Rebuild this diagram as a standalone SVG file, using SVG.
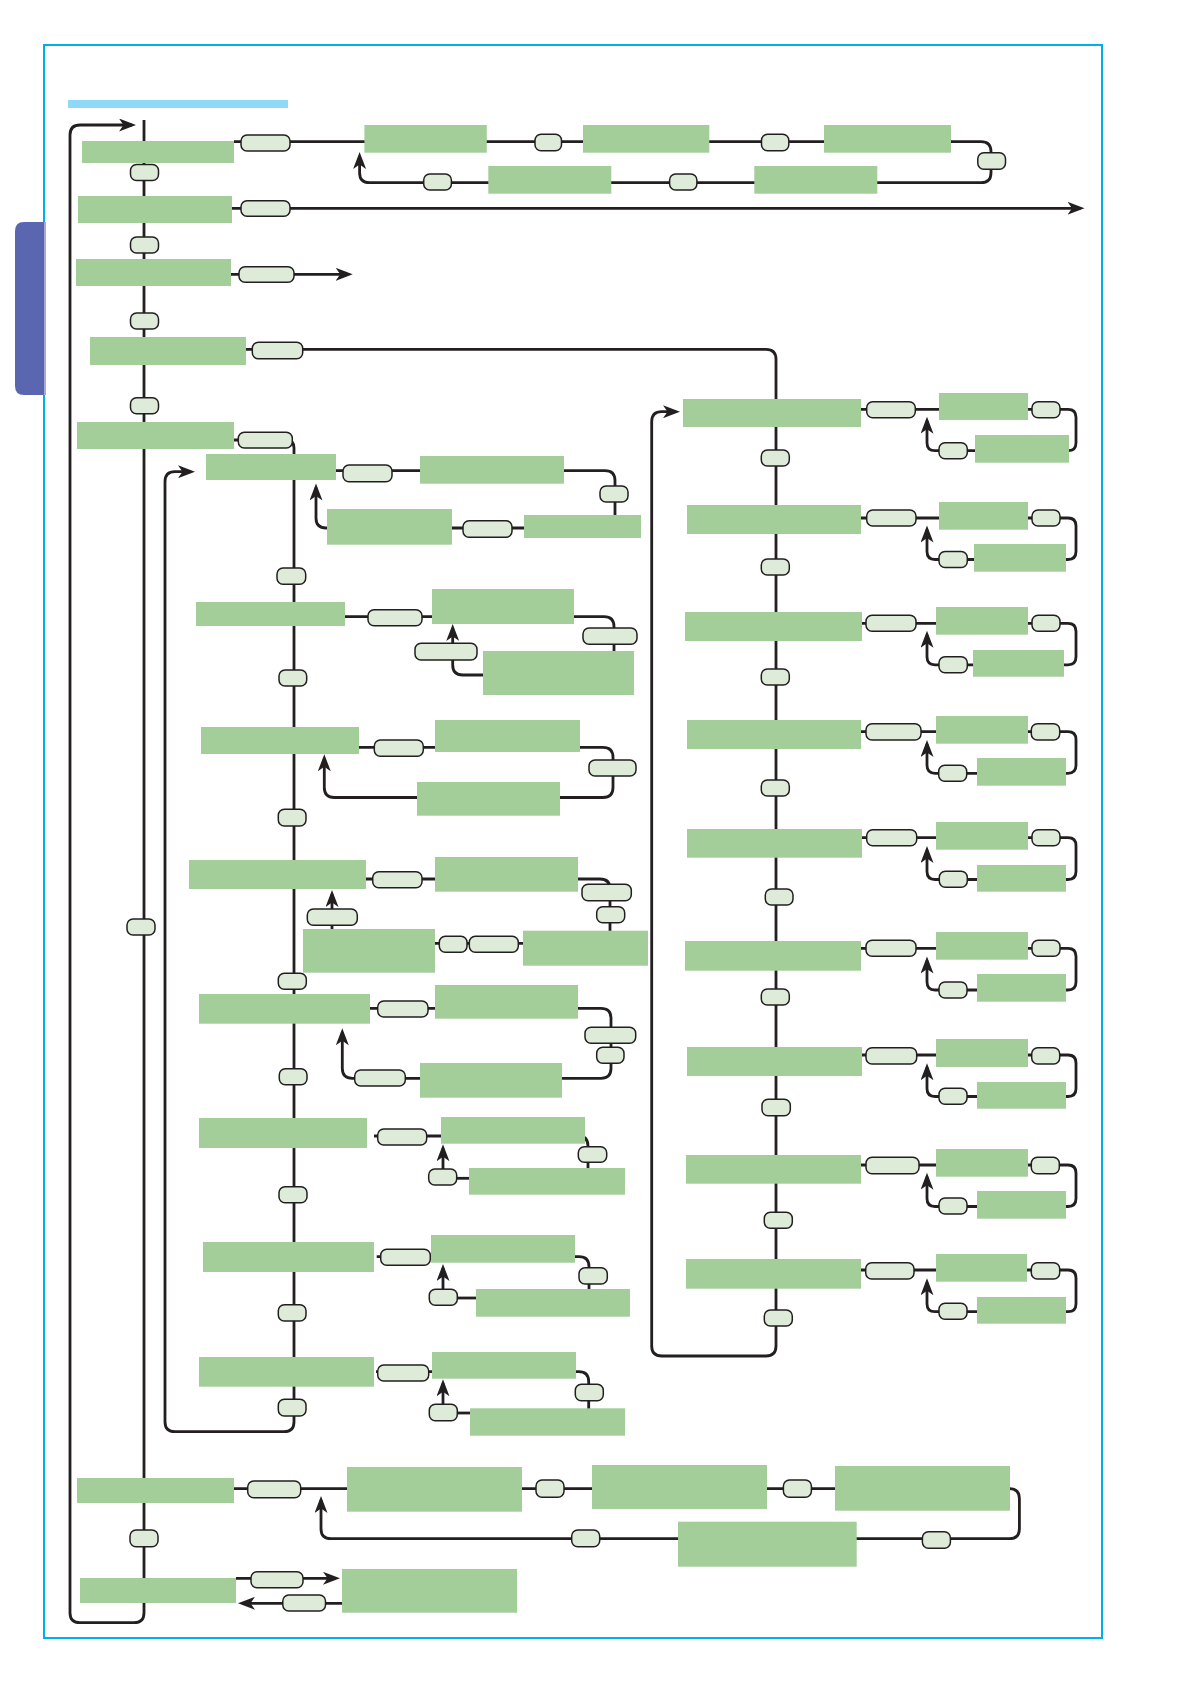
<svg xmlns="http://www.w3.org/2000/svg" width="1191" height="1685" viewBox="0 0 1191 1685">
<style>
.b{fill:#A3CE9A}
.p{fill:#DDEBD8;stroke:#231F20;stroke-width:1.5}
.c{fill:none;stroke:#231F20;stroke-width:2.8;stroke-linejoin:round}
.a{marker-end:url(#ah)}
</style>
<defs>
<marker id="ah" markerUnits="userSpaceOnUse" markerWidth="18" markerHeight="13" refX="13" refY="6.5" orient="auto" viewBox="0 0 18 13">
<path d="M0,0 L17,6.5 L0,13 L4.5,6.5 Z" fill="#231F20"/>
</marker>
</defs>
<rect width="1191" height="1685" fill="#FFFFFF"/>
<rect x="44" y="45" width="1058" height="1593" fill="none" stroke="#00AEEF" stroke-width="2"/>
<rect x="68" y="100" width="220" height="8" fill="#8ED8F8"/>
<path d="M46,222 H24 Q15,222 15,231 V386 Q15,395 24,395 H46 Z" fill="#5B66B1"/>
<line x1="45" y1="222" x2="45" y2="395" stroke="#A3AADA" stroke-width="2"/>

<g id="connectors">
<!-- main loop -->
<path class="c a" d="M144,120 V1612.7 Q144,1622.7 134,1622.7 H80 Q70,1622.7 70,1612.7 V135 Q70,125 80,125 H132"/>
<!-- box1 top loop -->
<path class="c a" d="M234,141.7 H981 Q991,141.7 991,151.7 V172.7 Q991,182.7 981,182.7 H369.6 Q359.6,182.7 359.6,172.7 V156"/>
<!-- box2 -->
<path class="c a" d="M232,208.3 H1080.5"/>
<!-- box3 -->
<path class="c a" d="M231,274.3 H348.7"/>
<!-- box4 to right column -->
<path class="c a" d="M246,349.3 H766 Q776,349.3 776,359.3 V1346 Q776,1356 766,1356 H661.7 Q651.7,1356 651.7,1346 V421.7 Q651.7,411.7 661.7,411.7 H676"/>
<!-- box5 to sub column -->
<path class="c a" d="M234,440 H286 Q294,440 294,448 V1421.7 Q294,1431.7 284,1431.7 H175 Q165,1431.7 165,1421.7 V481.7 Q165,471.7 175,471.7 H191"/>
<!-- sub A -->
<path class="c a" d="M336,470.7 H605 Q615,470.7 615,480.7 V518 Q615,528 605,528 H326 Q316,528 316,518 V487.5"/>
<!-- sub B -->
<path class="c a" d="M345,616.7 H604 Q614,616.7 614,626.7 V665 Q614,675 604,675 H462.7 Q452.7,675 452.7,665 V628"/>
<!-- sub C -->
<path class="c a" d="M359,747.3 H603 Q613,747.3 613,757.3 V787.5 Q613,797.5 603,797.5 H334.3 Q324.3,797.5 324.3,787.5 V758.3"/>
<!-- sub D -->
<path class="c" d="M366,879 H600 Q610,879 610,889 V935"/>
<path class="c" d="M523,943.3 H435"/>
<path class="c a" d="M332,929 V894"/>
<!-- sub E -->
<path class="c a" d="M370,1008.3 H601 Q611,1008.3 611,1018.3 V1068.3 Q611,1078.3 601,1078.3 H352.3 Q342.3,1078.3 342.3,1068.3 V1032.3"/>
<!-- sub F -->
<path class="c" d="M374,1136 H578 Q588,1136 588,1146 V1172"/>
<path class="c" d="M457,1178.3 H469"/>
<path class="c a" d="M443,1169 V1148.3"/>
<!-- sub G -->
<path class="c" d="M376.7,1256.7 H579 Q589,1256.7 589,1266.7 V1293"/>
<path class="c" d="M457,1298 H476"/>
<path class="c a" d="M443,1289 V1268"/>
<!-- sub H -->
<path class="c" d="M376,1371.7 H578.7 Q588.7,1371.7 588.7,1381.7 V1412"/>
<path class="c" d="M457,1413 H470"/>
<path class="c a" d="M443,1404 V1383.3"/>
<!-- right rows -->
<path class="c a" d="M861,409.3 H1068 Q1076,409.3 1076,417.3 V442.7 Q1076,450.7 1068,450.7 H935 Q927,450.7 927,442.7 V420.7"/>
<path class="c a" d="M861,518 H1068 Q1076,518 1076,526 V551.5 Q1076,559.5 1068,559.5 H935 Q927,559.5 927,551.5 V529.5"/>
<path class="c a" d="M862,623.3 H1068 Q1076,623.3 1076,631.3 V656.8 Q1076,664.8 1068,664.8 H935 Q927,664.8 927,656.8 V634.8"/>
<path class="c a" d="M861,731.7 H1068 Q1076,731.7 1076,739.7 V765.3 Q1076,773.3 1068,773.3 H935 Q927,773.3 927,765.3 V744"/>
<path class="c a" d="M862,837.7 H1068 Q1076,837.7 1076,845.7 V871.5 Q1076,879.5 1068,879.5 H935 Q927,879.5 927,871.5 V850"/>
<path class="c a" d="M861,948.3 H1068 Q1076,948.3 1076,956.3 V982 Q1076,990 1068,990 H935 Q927,990 927,982 V960.5"/>
<path class="c a" d="M862,1055 H1068 Q1076,1055 1076,1063 V1088.5 Q1076,1096.5 1068,1096.5 H935 Q927,1096.5 927,1088.5 V1067.3"/>
<path class="c a" d="M861,1165 H1068 Q1076,1165 1076,1173 V1198.5 Q1076,1206.5 1068,1206.5 H935 Q927,1206.5 927,1198.5 V1176.7"/>
<path class="c a" d="M861,1270 H1068 Q1076,1270 1076,1278 V1303.7 Q1076,1311.7 1068,1311.7 H935 Q927,1311.7 927,1303.7 V1282.3"/>
<!-- bottom rows -->
<path class="c a" d="M234,1488.7 H1009.4 Q1019.4,1488.7 1019.4,1498.7 V1528.7 Q1019.4,1538.7 1009.4,1538.7 H331 Q321,1538.7 321,1528.7 V1500"/>
<path class="c a" d="M236,1578.3 H336"/>
<path class="c a" d="M342,1603.3 H242"/>
</g>

<g id="main-boxes">
<g id="m1"><rect class="b" x="82" y="141" width="152" height="22"/></g>
<g id="m2"><rect class="b" x="78" y="196" width="154" height="27"/></g>
<g id="m3"><rect class="b" x="76" y="259" width="155" height="27"/></g>
<g id="m4"><rect class="b" x="90" y="337" width="156" height="28"/></g>
<g id="m5"><rect class="b" x="77" y="422" width="157" height="27"/></g>
<g id="m6"><rect class="b" x="77" y="1478" width="157" height="25"/></g>
<g id="m7"><rect class="b" x="80" y="1578" width="156" height="25"/></g>
</g>
<g id="main-pills">
<g id="mv1"><rect class="p" x="130.5" y="164.5" width="28" height="16" rx="6"/></g>
<g id="mv2"><rect class="p" x="130.5" y="237" width="28" height="16" rx="6"/></g>
<g id="mv3"><rect class="p" x="130.5" y="313" width="28" height="16" rx="6"/></g>
<g id="mv4"><rect class="p" x="130.5" y="397.7" width="28" height="16" rx="6"/></g>
<g id="mv5"><rect class="p" x="127" y="919" width="28" height="16" rx="6"/></g>
<g id="mv6"><rect class="p" x="130" y="1530" width="28" height="16.7" rx="6"/></g>
<g id="mh1"><rect class="p" x="241" y="135" width="49" height="16" rx="6"/></g>
<g id="mh2"><rect class="p" x="241" y="200.7" width="49" height="15.5" rx="6"/></g>
<g id="mh3"><rect class="p" x="239" y="266.7" width="55" height="15.5" rx="6"/></g>
<g id="mh4"><rect class="p" x="252.3" y="342.3" width="50.4" height="16.4" rx="6"/></g>
<g id="mh5"><rect class="p" x="238.3" y="432.3" width="54" height="15.7" rx="6"/></g>
<g id="mh6"><rect class="p" x="247.7" y="1481" width="53" height="16.7" rx="6"/></g>
<g id="mh7"><rect class="p" x="251" y="1571.7" width="52" height="16" rx="6"/></g>
<g id="mh8"><rect class="p" x="282.8" y="1595" width="42.7" height="16" rx="6"/></g>
</g>

<g id="top-row">
<g id="t1"><rect class="b" x="364.4" y="125" width="122.4" height="27.7"/></g>
<g id="t2"><rect class="b" x="583" y="125" width="126.3" height="27.7"/></g>
<g id="t3"><rect class="b" x="824" y="125" width="127" height="27.7"/></g>
<g id="t4"><rect class="b" x="754.3" y="166" width="123" height="27.7"/></g>
<g id="t5"><rect class="b" x="488.3" y="166" width="123" height="27.7"/></g>
<g id="tp1"><rect class="p" x="535" y="134.3" width="26.5" height="16.4" rx="6"/></g>
<g id="tp2"><rect class="p" x="761.5" y="134.3" width="27.3" height="16.4" rx="6"/></g>
<g id="tp3"><rect class="p" x="977.8" y="152.7" width="27.7" height="16.6" rx="6"/></g>
<g id="tp4"><rect class="p" x="669.6" y="174" width="27.3" height="16" rx="6"/></g>
<g id="tp5"><rect class="p" x="423.7" y="174" width="27.7" height="16" rx="6"/></g>
</g>

<g id="sub-chains">
<g id="a1"><rect class="b" x="206" y="454" width="130" height="26"/></g>
<g id="a1p"><rect class="p" x="343" y="465" width="49" height="16.7" rx="6"/></g>
<g id="a2"><rect class="b" x="420" y="456" width="144" height="27.7"/></g>
<g id="a2p"><rect class="p" x="600" y="486" width="28" height="16" rx="6"/></g>
<g id="a3"><rect class="b" x="524" y="515" width="117" height="23"/></g>
<g id="a3p"><rect class="p" x="463" y="520.7" width="49" height="16.6" rx="6"/></g>
<g id="a4"><rect class="b" x="327" y="509" width="125" height="35.7"/></g>

<g id="b1"><rect class="b" x="196" y="602" width="149" height="24"/></g>
<g id="b1p"><rect class="p" x="368" y="609.7" width="54" height="16" rx="6"/></g>
<g id="b2"><rect class="b" x="432" y="589" width="142" height="35"/></g>
<g id="b2p"><rect class="p" x="583" y="628" width="54" height="16.3" rx="6"/></g>
<g id="b3"><rect class="b" x="483" y="651" width="151" height="44"/></g>
<g id="b3p"><rect class="p" x="415" y="643.3" width="62" height="16.7" rx="6"/></g>

<g id="c1"><rect class="b" x="201" y="727" width="158" height="27"/></g>
<g id="c1p"><rect class="p" x="374.3" y="740" width="49" height="16.3" rx="6"/></g>
<g id="c2"><rect class="b" x="435" y="720" width="145" height="32"/></g>
<g id="c2p"><rect class="p" x="589" y="760" width="47" height="16" rx="6"/></g>
<g id="c3"><rect class="b" x="417" y="782" width="143" height="33.7"/></g>

<g id="d1"><rect class="b" x="189" y="860" width="177" height="29"/></g>
<g id="d1p"><rect class="p" x="372.7" y="871.7" width="49.3" height="16" rx="6"/></g>
<g id="d2"><rect class="b" x="435" y="857" width="143" height="34.7"/></g>
<g id="d2p"><rect class="p" x="582" y="884.3" width="49.3" height="16.4" rx="6"/></g>
<g id="d2q"><rect class="p" x="596.7" y="906.7" width="28" height="16" rx="6"/></g>
<g id="d3"><rect class="b" x="523" y="930.7" width="125" height="35"/></g>
<g id="d3p"><rect class="p" x="469.3" y="936.3" width="49" height="16" rx="6"/></g>
<g id="d3q"><rect class="p" x="439.3" y="936.3" width="27.7" height="16" rx="6"/></g>
<g id="d4"><rect class="b" x="303" y="929" width="132" height="43.7"/></g>
<g id="d4p"><rect class="p" x="307.3" y="909" width="50" height="16.3" rx="6"/></g>

<g id="e1"><rect class="b" x="199" y="994" width="171" height="29.7"/></g>
<g id="e1p"><rect class="p" x="377.7" y="1001" width="50.3" height="16" rx="6"/></g>
<g id="e2"><rect class="b" x="435" y="985" width="143" height="33.7"/></g>
<g id="e2p"><rect class="p" x="585" y="1027.3" width="50.7" height="16" rx="6"/></g>
<g id="e2q"><rect class="p" x="596.7" y="1047.3" width="27.3" height="16" rx="6"/></g>
<g id="e3"><rect class="b" x="420" y="1063" width="142" height="34.7"/></g>
<g id="e3p"><rect class="p" x="354.7" y="1070" width="50.6" height="16" rx="6"/></g>

<g id="f1"><rect class="b" x="199" y="1118" width="168" height="30"/></g>
<g id="f1p"><rect class="p" x="377.7" y="1129" width="49" height="16" rx="6"/></g>
<g id="f2"><rect class="b" x="441" y="1117" width="144" height="26.7"/></g>
<g id="f2p"><rect class="p" x="578.3" y="1146.7" width="28.4" height="15.6" rx="6"/></g>
<g id="f3"><rect class="b" x="469" y="1168" width="156" height="26.7"/></g>
<g id="f3p"><rect class="p" x="428.7" y="1169" width="28" height="16" rx="6"/></g>

<g id="g1"><rect class="b" x="203" y="1242" width="171" height="30"/></g>
<g id="g1p"><rect class="p" x="380.7" y="1249.3" width="49.6" height="16" rx="6"/></g>
<g id="g2"><rect class="b" x="431" y="1235" width="144" height="27.7"/></g>
<g id="g2p"><rect class="p" x="579" y="1267.7" width="28.3" height="16.3" rx="6"/></g>
<g id="g3"><rect class="b" x="476" y="1289" width="154" height="27.7"/></g>
<g id="g3p"><rect class="p" x="429.3" y="1289.3" width="28" height="16" rx="6"/></g>

<g id="h1"><rect class="b" x="199" y="1357" width="175" height="29.7"/></g>
<g id="h1p"><rect class="p" x="377.7" y="1365" width="51" height="16" rx="6"/></g>
<g id="h2"><rect class="b" x="432" y="1352" width="144" height="26.7"/></g>
<g id="h2p"><rect class="p" x="575.3" y="1384.3" width="28" height="16.4" rx="6"/></g>
<g id="h3"><rect class="b" x="470" y="1408.3" width="155" height="27.4"/></g>
<g id="h3p"><rect class="p" x="429.3" y="1404.3" width="28" height="16.4" rx="6"/></g>

<g id="sv1"><rect class="p" x="277" y="568" width="28.7" height="16.3" rx="6"/></g>
<g id="sv2"><rect class="p" x="279" y="670" width="27.7" height="16" rx="6"/></g>
<g id="sv3"><rect class="p" x="278.3" y="809.3" width="27.7" height="16.7" rx="6"/></g>
<g id="sv4"><rect class="p" x="278.3" y="973.3" width="28" height="16" rx="6"/></g>
<g id="sv5"><rect class="p" x="279.3" y="1068.7" width="27.7" height="16" rx="6"/></g>
<g id="sv6"><rect class="p" x="279" y="1186.7" width="28" height="16" rx="6"/></g>
<g id="sv7"><rect class="p" x="278.3" y="1304.7" width="27.7" height="16.3" rx="6"/></g>
<g id="sv8"><rect class="p" x="278.3" y="1399.3" width="27.7" height="16.7" rx="6"/></g>
</g>

<g id="right-column">
<g id="r1"><rect class="b" x="683" y="399" width="178" height="28"/><rect class="p" x="866.7" y="401.7" width="48.6" height="16" rx="6"/><rect class="b" x="939" y="393" width="89" height="27"/><rect class="p" x="1032" y="401.7" width="28" height="16" rx="6"/><rect class="b" x="975" y="435" width="94" height="27.7"/><rect class="p" x="939" y="442.7" width="28.3" height="16" rx="6"/></g>
<g id="r2"><rect class="b" x="687" y="505" width="174" height="29"/><rect class="p" x="866.7" y="510" width="49.3" height="16" rx="6"/><rect class="b" x="939" y="502" width="89" height="27.7"/><rect class="p" x="1032" y="510" width="28" height="16" rx="6"/><rect class="b" x="974" y="544" width="92" height="27.7"/><rect class="p" x="939" y="551.5" width="28.3" height="16" rx="6"/></g>
<g id="r3"><rect class="b" x="685" y="612" width="177" height="29"/><rect class="p" x="866" y="615.3" width="50" height="16" rx="6"/><rect class="b" x="936" y="607" width="92" height="27.7"/><rect class="p" x="1032" y="615.3" width="28" height="16" rx="6"/><rect class="b" x="973" y="650" width="91" height="26.7"/><rect class="p" x="939" y="656.8" width="28.3" height="16" rx="6"/></g>
<g id="r4"><rect class="b" x="687" y="720" width="174" height="29"/><rect class="p" x="866" y="723.7" width="55" height="16.3" rx="6"/><rect class="b" x="936" y="716" width="92" height="27.7"/><rect class="p" x="1031.3" y="723.7" width="28.4" height="16.3" rx="6"/><rect class="b" x="977" y="758" width="89" height="27.7"/><rect class="p" x="938.7" y="765.3" width="28" height="16" rx="6"/></g>
<g id="r5"><rect class="b" x="687" y="829" width="175" height="28.7"/><rect class="p" x="866.7" y="829.7" width="50" height="16" rx="6"/><rect class="b" x="936" y="822" width="92" height="27.7"/><rect class="p" x="1032" y="829.7" width="28" height="16" rx="6"/><rect class="b" x="977" y="865" width="89" height="26.7"/><rect class="p" x="939.3" y="871.3" width="28" height="16" rx="6"/></g>
<g id="r6"><rect class="b" x="685" y="941" width="176" height="29.7"/><rect class="p" x="866" y="940.3" width="50" height="16" rx="6"/><rect class="b" x="936" y="932" width="92" height="27.7"/><rect class="p" x="1032" y="940.3" width="28" height="16" rx="6"/><rect class="b" x="977" y="974" width="89" height="27.7"/><rect class="p" x="939" y="982" width="28" height="16" rx="6"/></g>
<g id="r7"><rect class="b" x="687" y="1047" width="175" height="29"/><rect class="p" x="866" y="1047.7" width="50.7" height="16.3" rx="6"/><rect class="b" x="936" y="1039" width="92" height="28"/><rect class="p" x="1031.7" y="1047.7" width="28" height="16.3" rx="6"/><rect class="b" x="977" y="1082" width="89" height="26.7"/><rect class="p" x="939" y="1088.3" width="28" height="16" rx="6"/></g>
<g id="r8"><rect class="b" x="686" y="1155" width="175" height="28.7"/><rect class="p" x="866" y="1157.3" width="53" height="16.4" rx="6"/><rect class="b" x="936" y="1149" width="92" height="27.7"/><rect class="p" x="1031.3" y="1157.3" width="28" height="16.4" rx="6"/><rect class="b" x="977" y="1191" width="89" height="27.7"/><rect class="p" x="939" y="1198" width="28" height="16" rx="6"/></g>
<g id="r9"><rect class="b" x="686" y="1259" width="175" height="29.7"/><rect class="p" x="865.7" y="1262.7" width="48.3" height="16.3" rx="6"/><rect class="b" x="936" y="1254" width="91" height="27.7"/><rect class="p" x="1031.3" y="1262.7" width="28.4" height="16.3" rx="6"/><rect class="b" x="977" y="1297" width="89" height="26.7"/><rect class="p" x="939" y="1303.3" width="28" height="16" rx="6"/></g>
<g id="rv1"><rect class="p" x="761.3" y="450" width="28" height="16" rx="6"/></g>
<g id="rv2"><rect class="p" x="761.3" y="559" width="28" height="16" rx="6"/></g>
<g id="rv3"><rect class="p" x="761.3" y="669" width="28" height="16" rx="6"/></g>
<g id="rv4"><rect class="p" x="761.3" y="780" width="28" height="16" rx="6"/></g>
<g id="rv5"><rect class="p" x="765.3" y="889" width="27.7" height="16" rx="6"/></g>
<g id="rv6"><rect class="p" x="761.3" y="989" width="28" height="16" rx="6"/></g>
<g id="rv7"><rect class="p" x="762" y="1099.3" width="28.3" height="16.4" rx="6"/></g>
<g id="rv8"><rect class="p" x="764.3" y="1212.3" width="28" height="16" rx="6"/></g>
<g id="rv9"><rect class="p" x="764.3" y="1310" width="28" height="16" rx="6"/></g>
</g>

<g id="bottom-rows">
<g id="n1"><rect class="b" x="347" y="1467" width="175" height="44.7"/></g>
<g id="n1p"><rect class="p" x="536" y="1480" width="28" height="17.3" rx="6"/></g>
<g id="n2"><rect class="b" x="592" y="1465" width="175" height="44"/></g>
<g id="n2p"><rect class="p" x="783.4" y="1480" width="28" height="17.3" rx="6"/></g>
<g id="n3"><rect class="b" x="835" y="1466" width="175" height="44.7"/></g>
<g id="n3p"><rect class="p" x="922.4" y="1531.7" width="28" height="16.6" rx="6"/></g>
<g id="n4"><rect class="b" x="678" y="1521.7" width="178.7" height="45"/></g>
<g id="n4p"><rect class="p" x="571.7" y="1530" width="28" height="16.7" rx="6"/></g>
<g id="n5"><rect class="b" x="342" y="1569" width="175" height="43.7"/></g>
</g>
</svg>
